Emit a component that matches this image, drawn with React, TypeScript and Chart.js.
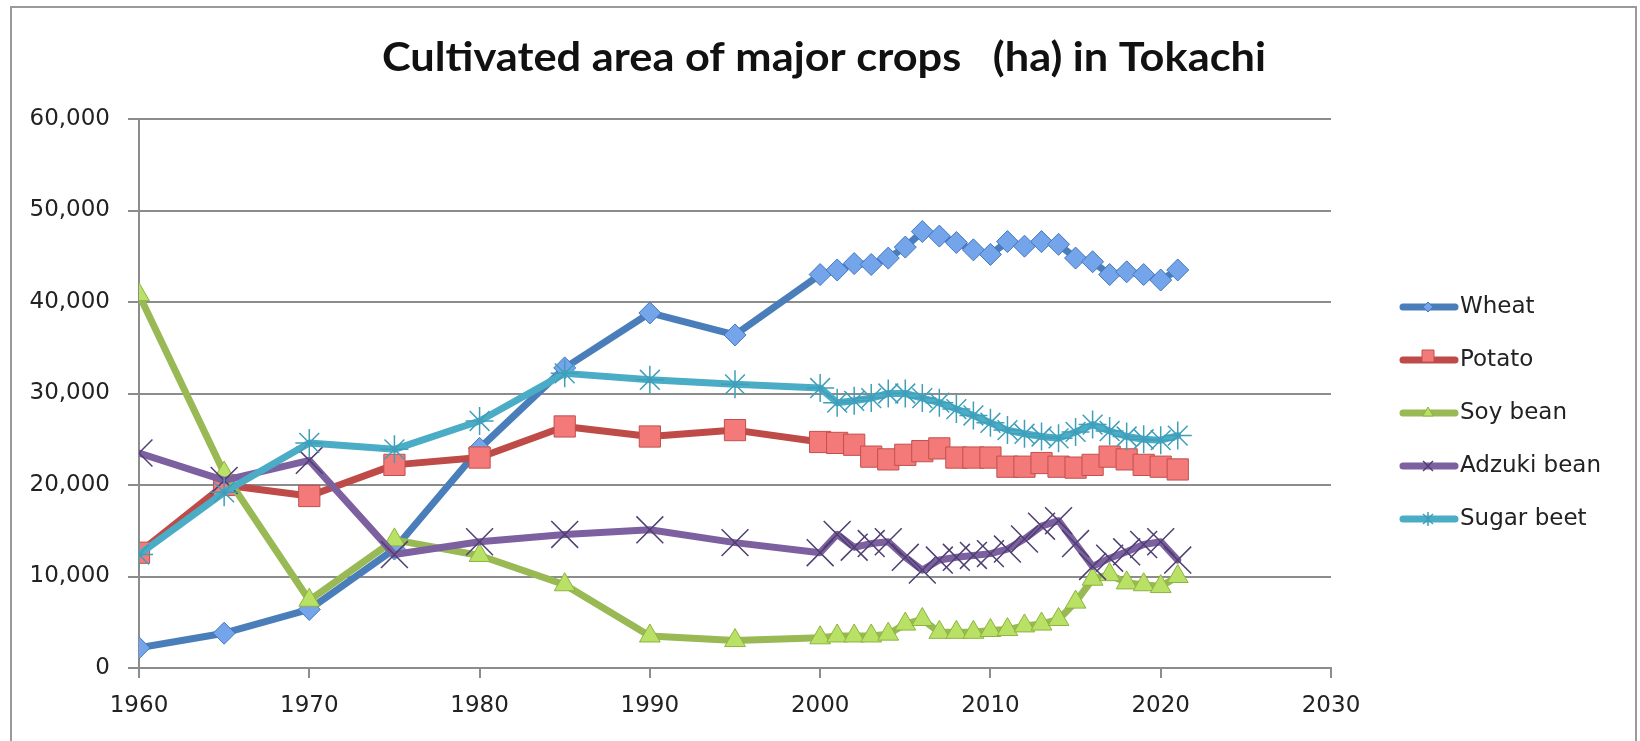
import React, { useEffect, useRef } from "react";
import { Chart, registerables } from "chart.js";

Chart.register(...registerables);

// ---------- data ----------
const years = [
  1960, 1965, 1970, 1975, 1980, 1985, 1990, 1995, 2000, 2001, 2002, 2003, 2004, 2005,
  2006, 2007, 2008, 2009, 2010, 2011, 2012, 2013, 2014, 2015, 2016, 2017, 2018, 2019,
  2020, 2021,
];

const wheat = [
  2200, 3800, 6400, 13000, 24000, 32800, 38800, 36400, 43000, 43500, 44200, 44100, 44800,
  46000, 47700, 47200, 46500, 45700, 45200, 46600, 46100, 46600, 46300, 44800, 44400,
  43000, 43300, 43000, 42400, 43500,
];

const potato = [
  12600, 20000, 18800, 22200, 23000, 26400, 25300, 26000, 24700, 24600, 24400, 23100,
  22800, 23300, 23700, 24000, 23000, 23000, 23000, 22000, 22000, 22400, 22000, 21900,
  22200, 23100, 22800, 22200, 22000, 21700,
];

const soyBean = [
  40800, 21300, 7400, 14000, 12300, 9100, 3500, 3000, 3300, 3500, 3500, 3500, 3700, 4800,
  5300, 3900, 3900, 3900, 4100, 4200, 4600, 4800, 5300, 7200, 9700, 10200, 9300, 9100,
  8900, 10000,
];

const adzukiBean = [
  23500, 20500, 22700, 12400, 13800, 14600, 15100, 13700, 12600, 14600, 13200, 13600,
  13800, 12100, 10700, 11800, 12100, 12300, 12500, 13000, 14100, 15500, 16100, 13600,
  11100, 12000, 12700, 13500, 13800, 11800,
];

const sugarBeet = [
  12400, 19200, 24600, 23900, 27000, 32200, 31500, 31000, 30600, 29000, 29200, 29500,
  30000, 30000, 29500, 29000, 28300, 27600, 26800, 26000, 25600, 25300, 25100, 25800,
  26600, 25900, 25300, 25000, 24900, 25400,
];

const seriesNames = ["Wheat", "Potato", "Soy bean", "Adzuki bean", "Sugar beet"];
const xMin = 1960;
const xMax = 2030;
const xStep = 10;
const yMin = 0;
const yMax = 60000;
const yStep = 10000;
const titleText = "Cultivated area of major crops   (ha) in Tokachi";

// ---------- styles ----------
const W = 1640;
const H = 741;
const FONT = "'DejaVu Sans', sans-serif";
const GRID = "#8c8c8c";

type Style = {
  line: string;
  fill: string;
  edge: string;
  point: string;
  radius: number;
  edgeWidth: number;
};

const styles: Style[] = [
  { line: "#4a7ebb", fill: "#74a5ea", edge: "#4576be", point: "rectRot", radius: 11, edgeWidth: 1 },
  { line: "#be4b48", fill: "#f47a7a", edge: "#c0504d", point: "rect", radius: 15, edgeWidth: 1 },
  { line: "#98b954", fill: "#b9e166", edge: "#8db43f", point: "triangle", radius: 12, edgeWidth: 1 },
  { line: "#7d60a0", fill: "rgba(0,0,0,0)", edge: "#4f3f72", point: "crossRot", radius: 19, edgeWidth: 1.5 },
  { line: "#4bacc6", fill: "rgba(0,0,0,0)", edge: "#3f9fba", point: "star", radius: 14, edgeWidth: 1.5 },
];

const seriesValues = [wheat, potato, soyBean, adzukiBean, sugarBeet];

function drawMarker(ctx: CanvasRenderingContext2D, kind: string, x: number, y: number, r: number) {
  ctx.beginPath();
  if (kind === "rectRot") {
    ctx.moveTo(x, y - r);
    ctx.lineTo(x + r, y);
    ctx.lineTo(x, y + r);
    ctx.lineTo(x - r, y);
    ctx.closePath();
    ctx.fill();
    ctx.stroke();
  } else if (kind === "rect") {
    ctx.rect(x - r, y - r, 2 * r, 2 * r);
    ctx.fill();
    ctx.stroke();
  } else if (kind === "triangle") {
    ctx.moveTo(x, y - r);
    ctx.lineTo(x + r * 0.866, y + r * 0.5);
    ctx.lineTo(x - r * 0.866, y + r * 0.5);
    ctx.closePath();
    ctx.fill();
    ctx.stroke();
  } else if (kind === "crossRot") {
    const d = r * 0.707;
    ctx.moveTo(x - d, y - d);
    ctx.lineTo(x + d, y + d);
    ctx.moveTo(x + d, y - d);
    ctx.lineTo(x - d, y + d);
    ctx.stroke();
  } else {
    const d = r * 0.707;
    ctx.moveTo(x - d, y - d);
    ctx.lineTo(x + d, y + d);
    ctx.moveTo(x + d, y - d);
    ctx.lineTo(x - d, y + d);
    ctx.moveTo(x, y - r);
    ctx.lineTo(x, y + r);
    ctx.stroke();
  }
}

const framePlugin = {
  id: "frameAndTitle",
  beforeDraw(chart: any) {
    const ctx = chart.ctx as CanvasRenderingContext2D;
    ctx.save();
    ctx.fillStyle = "#ffffff";
    ctx.fillRect(0, 0, W, H);
    ctx.strokeStyle = "#9a9a9a";
    ctx.lineWidth = 2;
    ctx.beginPath();
    ctx.moveTo(11, H);
    ctx.lineTo(11, 7);
    ctx.lineTo(1636, 7);
    ctx.lineTo(1636, H);
    ctx.stroke();
    // title
    ctx.font = "bold 40px Lato, 'Open Sans', sans-serif";
    ctx.fillStyle = "#111";
    ctx.textBaseline = "alphabetic";
    ctx.textAlign = "left";
    const tw = ctx.measureText(titleText).width;
    const target = 884;
    const sx = target / tw;
    ctx.translate(382, 71);
    ctx.scale(sx, 1);
    ctx.fillText(titleText, 0, 0);
    ctx.restore();
  },
  afterDraw(chart: any) {
    const ctx = chart.ctx as CanvasRenderingContext2D;
    ctx.save();
    const y0 = 307;
    const gap = 53;
    seriesNames.forEach((name, i) => {
      const st = styles[i];
      const y = y0 + i * gap;
      ctx.strokeStyle = st.line;
      ctx.lineWidth = 7;
      ctx.lineCap = "round";
      ctx.beginPath();
      ctx.moveTo(1403, y);
      ctx.lineTo(1455, y);
      ctx.stroke();
      ctx.lineCap = "butt";
      ctx.fillStyle = st.fill;
      ctx.strokeStyle = st.edge;
      ctx.lineWidth = st.edgeWidth;
      const r = st.point === "rect" ? 6 : st.point === "rectRot" ? 5 : st.point === "triangle" ? 6 : 7;
      drawMarker(ctx, st.point, 1428, st.point === "rect" ? y - 4 : y, r);
      ctx.font = `23px ${FONT}`;
      ctx.fillStyle = "#222";
      ctx.textBaseline = "middle";
      ctx.textAlign = "left";
      ctx.fillText(name, 1460, y);
    });
    ctx.restore();
  },
};

export default function App() {
  const ref = useRef<HTMLCanvasElement | null>(null);

  useEffect(() => {
    document.body.style.margin = "0";
    const canvas = ref.current;
    if (!canvas) return;

    const datasets = seriesNames.map((name, i) => {
      const st = styles[i];
      return {
        label: name,
        data: years.map((x, k) => ({ x, y: seriesValues[i][k] })),
        borderColor: st.line,
        backgroundColor: st.line,
        borderWidth: 7,
        borderJoinStyle: "round" as const,
        borderCapStyle: "round" as const,
        tension: 0,
        pointStyle: st.point,
        pointRadius: st.radius,
        pointBackgroundColor: st.fill,
        pointBorderColor: st.edge,
        pointBorderWidth: st.edgeWidth,
        order: 5 - i,
      };
    });

    const chart = new Chart(canvas, {
      type: "line",
      data: { datasets },
      options: {
        responsive: false,
        animation: false,
        devicePixelRatio: 1,
        layout: { padding: { left: 0, top: 119, right: 309, bottom: 0 } },
        plugins: {
          legend: { display: false },
          title: { display: false },
          tooltip: { enabled: false },
        },
        scales: {
          x: {
            type: "linear",
            min: xMin,
            max: xMax,
            ticks: {
              stepSize: xStep,
              padding: 14,
              color: "#222",
              font: { family: FONT, size: 23 },
              callback: (v: any) => String(v),
            },
            grid: {
              drawOnChartArea: false,
              drawTicks: true,
              tickLength: 10,
              color: GRID,
              lineWidth: 2,
            },
            border: { color: GRID, width: 2 },
            afterFit: (s: any) => {
              s.height = 73;
            },
          },
          y: {
            min: yMin,
            max: yMax,
            ticks: {
              stepSize: yStep,
              padding: 18,
              color: "#222",
              font: { family: FONT, size: 23 },
              callback: (v: any) => Number(v).toLocaleString("en-US"),
            },
            grid: { color: GRID, lineWidth: 2, tickLength: 11 },
            border: { color: GRID, width: 2 },
            afterFit: (s: any) => {
              s.width = 139;
            },
          },
        },
      },
      plugins: [framePlugin],
    });

    return () => chart.destroy();
  }, []);

  return (
    <div style={{ width: W, height: H, position: "relative", background: "#fff" }}>
      <canvas ref={ref} width={W} height={H} style={{ width: W, height: H, display: "block" }} />
    </div>
  );
}
